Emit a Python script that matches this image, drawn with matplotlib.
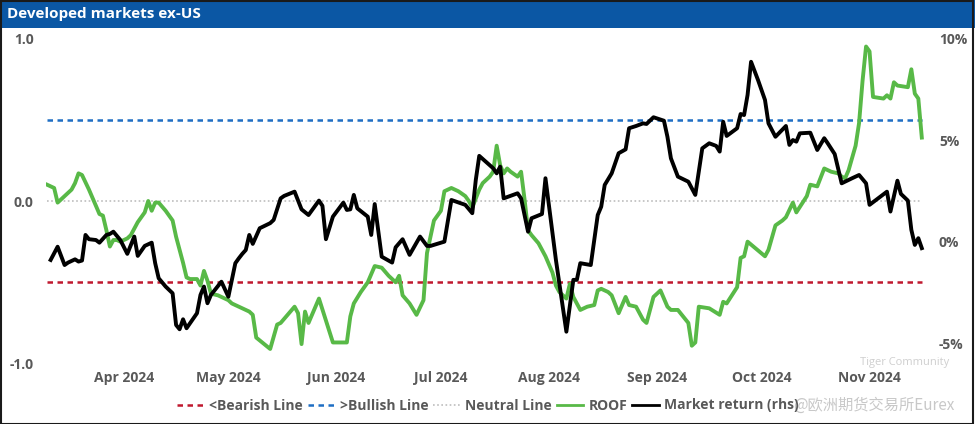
import matplotlib
matplotlib.use("Agg")
import matplotlib.pyplot as plt
import matplotlib.dates as mdates
from matplotlib.lines import Line2D
from matplotlib.patches import Rectangle
import pandas as pd

plt.rcParams['font.family'] = ['Open Sans', 'DejaVu Sans']

# ROOF indicator (left axis)
roof_days = ['03-10', '03-12', '03-13', '03-14', '03-15', '03-17', '03-18', '03-19', '03-20', '03-22',
             '03-25', '03-26', '03-27', '03-28', '03-29', '03-30', '03-31', '04-02', '04-03', '04-04',
             '04-05', '04-07', '04-08', '04-09', '04-10', '04-11', '04-13', '04-15', '04-16', '04-18',
             '04-19', '04-20', '04-22', '04-23', '04-24', '04-25', '04-26', '04-28', '04-30', '05-01',
             '05-02', '05-05', '05-07', '05-08', '05-09', '05-13', '05-15', '05-16', '05-20', '05-21',
             '05-22', '05-23', '05-24', '05-27', '05-31', '06-04', '06-05', '06-06', '06-08', '06-10',
             '06-12', '06-14', '06-16', '06-18', '06-19', '06-20', '06-22', '06-24', '06-26', '06-27',
             '06-28', '06-29', '06-30', '07-01', '07-02', '07-04', '07-06', '07-08', '07-09', '07-10',
             '07-12', '07-13', '07-15', '07-16', '07-17', '07-18', '07-19', '07-20', '07-21', '07-23',
             '07-24', '07-25', '07-26', '07-27', '07-29', '07-31', '08-02', '08-03', '08-04', '08-06',
             '08-07', '08-08', '08-10', '08-12', '08-14', '08-15', '08-16', '08-18', '08-19', '08-21',
             '08-23', '08-24', '08-26', '08-28', '08-29', '08-31', '09-02', '09-04', '09-05', '09-07',
             '09-10', '09-11', '09-12', '09-13', '09-16', '09-19', '09-20', '09-21', '09-24', '09-25',
             '09-26', '09-27', '10-02', '10-03', '10-05', '10-07', '10-08', '10-10', '10-11', '10-14',
             '10-15', '10-17', '10-19', '10-21', '10-23', '10-24', '10-25', '10-26', '10-28', '10-29',
             '10-30', '10-31', '11-01', '11-02', '11-05', '11-06', '11-07', '11-08', '11-09', '11-12',
             '11-13', '11-14', '11-15', '11-16']
roof_values = [0.10, 0.08, -0.01, 0.01, 0.03, 0.07, 0.11, 0.17, 0.16, 0.07,
               -0.08, -0.09, -0.18, -0.28, -0.24, -0.24, -0.25, -0.23, -0.21, -0.17,
               -0.13, -0.07, 0.00, -0.06, -0.01, -0.01, -0.06, -0.12, -0.22, -0.38,
               -0.47, -0.48, -0.48, -0.52, -0.43, -0.49, -0.57, -0.58, -0.60, -0.61,
               -0.63, -0.66, -0.68, -0.70, -0.84, -0.91, -0.76, -0.75, -0.65, -0.69,
               -0.88, -0.68, -0.75, -0.60, -0.87, -0.87, -0.71, -0.63, -0.56, -0.50,
               -0.40, -0.41, -0.46, -0.50, -0.46, -0.58, -0.63, -0.70, -0.61, -0.32,
               -0.22, -0.12, -0.09, -0.06, 0.06, 0.08, 0.06, 0.03, 0.00, -0.04,
               0.07, 0.11, 0.15, 0.18, 0.34, 0.22, 0.17, 0.20, 0.18, 0.15,
               0.18, 0.01, -0.18, -0.21, -0.26, -0.34, -0.44, -0.52, -0.56, -0.60,
               -0.51, -0.59, -0.67, -0.65, -0.64, -0.55, -0.54, -0.56, -0.58, -0.69,
               -0.59, -0.64, -0.65, -0.73, -0.75, -0.59, -0.55, -0.65, -0.67, -0.67,
               -0.75, -0.89, -0.87, -0.65, -0.66, -0.70, -0.62, -0.63, -0.53, -0.35,
               -0.34, -0.25, -0.34, -0.30, -0.15, -0.12, -0.10, -0.01, -0.07, 0.03,
               0.10, 0.09, 0.20, 0.18, 0.17, 0.15, 0.14, 0.19, 0.34, 0.48,
               0.74, 0.95, 0.92, 0.64, 0.63, 0.65, 0.63, 0.73, 0.71, 0.70,
               0.81, 0.66, 0.63, 0.39]

# market return in % (right axis)
mkt_days = ['03-11', '03-13', '03-15', '03-16', '03-18', '03-19', '03-20', '03-21', '03-22', '03-24',
            '03-25', '03-27', '03-28', '03-29', '03-31', '04-02', '04-04', '04-05', '04-07', '04-09',
            '04-10', '04-11', '04-13', '04-15', '04-16', '04-17', '04-18', '04-19', '04-22', '04-23',
            '04-24', '04-25', '04-26', '04-29', '05-01', '05-03', '05-04', '05-05', '05-06', '05-07',
            '05-08', '05-10', '05-13', '05-14', '05-16', '05-17', '05-20', '05-22', '05-24', '05-27',
            '05-28', '05-29', '05-31', '06-03', '06-04', '06-05', '06-06', '06-07', '06-10', '06-11',
            '06-12', '06-14', '06-17', '06-18', '06-20', '06-22', '06-25', '06-27', '06-28', '07-02',
            '07-04', '07-08', '07-10', '07-11', '07-12', '07-16', '07-17', '07-18', '07-19', '07-23',
            '07-24', '07-26', '07-27', '07-30', '07-31', '08-03', '08-06', '08-08', '08-09', '08-10',
            '08-13', '08-15', '08-16', '08-17', '08-19', '08-21', '08-23', '08-24', '08-26', '08-28',
            '08-29', '08-31', '09-03', '09-04', '09-05', '09-07', '09-10', '09-12', '09-14', '09-16',
            '09-18', '09-19', '09-20', '09-21', '09-24', '09-25', '09-26', '09-27', '09-28', '09-30',
            '10-02', '10-03', '10-05', '10-08', '10-09', '10-10', '10-11', '10-12', '10-15', '10-17',
            '10-19', '10-20', '10-22', '10-24', '10-27', '10-29', '10-31', '11-01', '11-06', '11-07',
            '11-09', '11-10', '11-12', '11-13', '11-14', '11-15', '11-16']
mkt_values = [-0.90, -0.25, -1.15, -1.03, -0.87, -0.98, -0.93, 0.33, 0.12, 0.08,
              -0.05, 0.33, 0.38, 0.49, 0.08, -0.60, 0.25, -0.70, -0.21, -0.05,
              -1.06, -1.80, -2.21, -2.54, -4.10, -4.31, -3.82, -4.26, -3.52, -2.62,
              -2.21, -3.03, -2.62, -1.97, -2.71, -1.06, -0.82, -0.60, -0.41, 0.33,
              -0.11, 0.66, 0.91, 1.07, 2.13, 2.25, 2.46, 1.59, 1.31, 2.02,
              1.76, 0.12, 1.23, 1.92, 1.56, 1.59, 2.30, 1.64, 1.23, 0.33,
              1.85, -0.74, -1.03, -0.28, 0.12, -0.65, 0.25, -0.21, -0.21, 0.00,
              2.05, 1.81, 1.40, 3.03, 4.22, 3.61, 3.36, 3.69, 2.13, 2.38,
              2.13, 0.49, 1.15, 1.36, 3.12, -0.90, -4.43, -1.88, -1.88, -1.06,
              -1.15, 1.31, 1.72, 2.79, 3.36, 4.35, 4.54, 5.58, 5.69, 5.82,
              5.79, 6.12, 5.95, 5.16, 4.10, 3.20, 2.95, 2.30, 4.59, 4.84,
              4.71, 4.43, 5.90, 5.20, 5.58, 6.28, 6.23, 7.22, 8.85, 7.95,
              6.97, 5.82, 5.16, 5.69, 4.76, 5.00, 4.92, 5.33, 5.36, 4.51,
              5.09, 4.84, 4.31, 2.87, 3.12, 3.28, 2.87, 1.81, 2.46, 1.48,
              3.00, 2.35, 2.02, 0.58, -0.16, 0.17, -0.32]

bearish_level = -0.5
bullish_level = 0.5
neutral_level = 0.0
month_ticks = ['2024-04-01', '2024-05-01', '2024-06-01', '2024-07-01',
               '2024-08-01', '2024-09-01', '2024-10-01', '2024-11-01']
left_ticks = [-1.0, 0.0, 1.0]
right_ticks = [-5, 0, 5, 10]

roof_x = pd.to_datetime(['2024-' + d for d in roof_days])
mkt_x = pd.to_datetime(['2024-' + d for d in mkt_days])
line_span = [roof_x[0], roof_x[-1]]

tick_grey = '#595959'
red = '#C0182E'
blue = '#1F6EC4'
neutral_grey = '#BDBDBD'
green = '#58B947'

fig = plt.figure(figsize=(9.75, 4.24), dpi=100)
fig.patch.set_facecolor('white')

# title bar
fig.patches.append(Rectangle((0, 1 - 28 / 424), 1, 28 / 424, transform=fig.transFigure,
                             facecolor='#0B57A4', edgecolor='none', zorder=0))
fig.text(7 / 975, 1 - 14 / 424, 'Developed markets ex-US', color='white',
         fontsize=11, fontweight='bold', va='center', ha='left')

ax = fig.add_axes([46 / 975, (424 - 363.6) / 424, 879 / 975, 325.2 / 424])
ax.patch.set_alpha(0)
ax.plot(line_span, [bearish_level] * 2, color=red, lw=1.8, dashes=(2.2, 1.8))
ax.plot(line_span, [bullish_level] * 2, color=blue, lw=1.8, dashes=(2.2, 1.8))
ax.plot(line_span, [neutral_level] * 2, color=neutral_grey, lw=1.2, dashes=(1, 1.5))
ax.plot(roof_x, roof_values, color=green, lw=2.8, solid_joinstyle='round')
ax.set_ylim(-1, 1)
ax.set_yticks(left_ticks)
ax.set_yticklabels([f'{t:.1f}' for t in left_ticks])
ax.set_xlim(pd.Timestamp('2024-03-09 16:00'), pd.Timestamp('2024-11-16 22:00'))
ax.set_xticks(pd.to_datetime(month_ticks))
ax.xaxis.set_major_formatter(mdates.DateFormatter('%b %Y'))

ax2 = ax.twinx()
ax2.plot(mkt_x, mkt_values, color='black', lw=2.8, solid_joinstyle='round')
ax2.set_ylim(-6, 10)
ax2.set_yticks(right_ticks)
ax2.set_yticklabels([f'{t}%' for t in right_ticks])

for a in (ax, ax2):
    for s in a.spines.values():
        s.set_visible(False)
    a.tick_params(length=0, labelsize=10, labelcolor=tick_grey)
    for lab in a.get_xticklabels() + a.get_yticklabels():
        lab.set_fontweight('bold')
ax.tick_params(axis='y', pad=9)
ax.tick_params(axis='x', pad=5)
ax2.tick_params(axis='y', pad=10)

handles = [
    Line2D([], [], color=red, lw=1.8, dashes=(2.2, 1.8)),
    Line2D([], [], color=blue, lw=1.8, dashes=(2.2, 1.8)),
    Line2D([], [], color=neutral_grey, lw=1.2, dashes=(1, 1.5)),
    Line2D([], [], color=green, lw=2.0),
    Line2D([], [], color='black', lw=2.0),
]
labels = ['<Bearish Line', '>Bullish Line', 'Neutral Line', 'ROOF', 'Market return (rhs)']
leg = fig.legend(handles, labels, loc='center', ncol=5, frameon=False,
                 bbox_to_anchor=(488 / 975, 1 - 405.5 / 424),
                 prop={'size': 10, 'weight': 'bold'}, handlelength=1.9,
                 handletextpad=0.4, columnspacing=0.35)
for t in leg.get_texts():
    t.set_color(tick_grey)

# watermarks
fig.text(860 / 975, 1 - 362 / 424, 'Tiger Community', color='#cfcfcf', fontsize=8,
         va='center', ha='left')
fig.text(955 / 975, 1 - 405 / 424, '@欧洲期货交易所Eurex', color='#c8c8c8', fontsize=11,
         va='center', ha='right', family=['Noto Sans CJK SC', 'DejaVu Sans'])

# outer frame
fig.patches.append(Rectangle((0.5 / 975, 0.5 / 424), 972.5 / 975, 1 - 1 / 424,
                             transform=fig.transFigure, facecolor='none',
                             edgecolor='#1a1a1a', lw=1.5, zorder=5))

fig.savefig('out.png', dpi=100)
